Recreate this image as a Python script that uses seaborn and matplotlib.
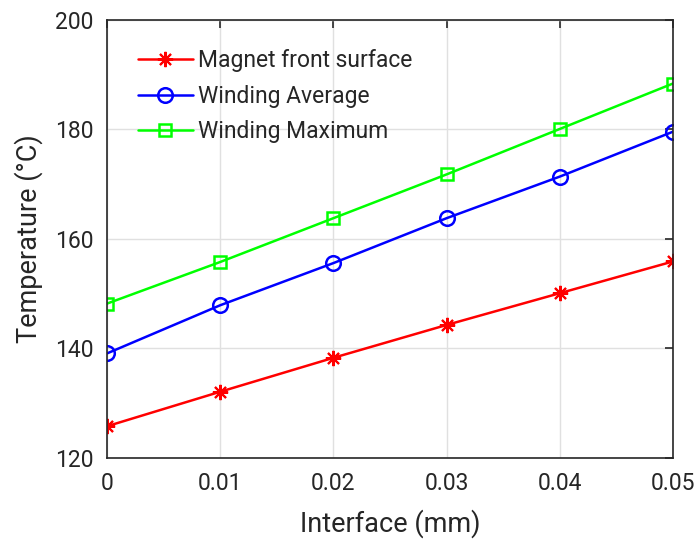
import matplotlib
matplotlib.use("Agg")
import matplotlib.pyplot as plt
import seaborn as sns
import pandas as pd

interface = [0, 0.01, 0.02, 0.03, 0.04, 0.05]
magnet = [125.8, 132.1, 138.3, 144.3, 150.1, 155.9]
wind_avg = [139.1, 147.9, 155.6, 163.8, 171.4, 179.6]
wind_max = [148.2, 155.8, 163.8, 171.8, 180.1, 188.4]
labels = ["Magnet front surface", "Winding Average", "Winding Maximum"]
colors = ["#ff0000", "#0000ff", "#00ff00"]
markers = [(8, 2, 0), "o", "s"]

sns.set_theme(style="white")
plt.rcParams['font.family'] = ['Roboto', 'DejaVu Sans']

df = pd.DataFrame({
    "x": interface * 3,
    "y": magnet + wind_avg + wind_max,
    "series": sum([[l] * len(interface) for l in labels], []),
})

fig = plt.figure(figsize=(7, 5.48), dpi=100)
ax = fig.add_axes([107/700, 1 - 458/548, (673-107)/700, (458-20)/548])

sizes = [11, 10.5, 8.5]
widths = [1.5, 1.8, 1.8]
for lab, col, mk, ms, mw in zip(labels, colors, markers, sizes, widths):
    sub = df[df.series == lab]
    sns.lineplot(data=sub, x="x", y="y", ax=ax, color=col, marker=mk,
                 markersize=ms, markerfacecolor="none", markeredgecolor=col,
                 markeredgewidth=mw, linewidth=1.8, label=lab)

ax.set_xlim(0, 0.05)
ax.set_ylim(120, 200)
ax.set_xticks(interface)
ax.set_xticklabels(["0", "0.01", "0.02", "0.03", "0.04", "0.05"])
ax.set_yticks([120, 140, 160, 180, 200])
ax.grid(True, color="#e0e0e0", linewidth=1)
for s in ax.spines.values():
    s.set_color("#262626")
    s.set_linewidth(1.2)
ax.tick_params(direction="in", length=6, width=1.2, colors="#262626",
               labelsize=16.5, top=True, right=True, pad=10)
ax.set_xlabel("Interface (mm)", fontsize=19.5, color="#262626", labelpad=10)
ax.set_ylabel("Temperature (°C)", fontsize=19.5, color="#262626", labelpad=8)
leg = ax.legend(loc="upper left", frameon=False, fontsize=16.5,
                handlelength=2.4, handletextpad=0.25, borderaxespad=0.2,
                labelspacing=0.55, bbox_to_anchor=(0.03, 0.965))
fig.savefig("out.png", dpi=100)
